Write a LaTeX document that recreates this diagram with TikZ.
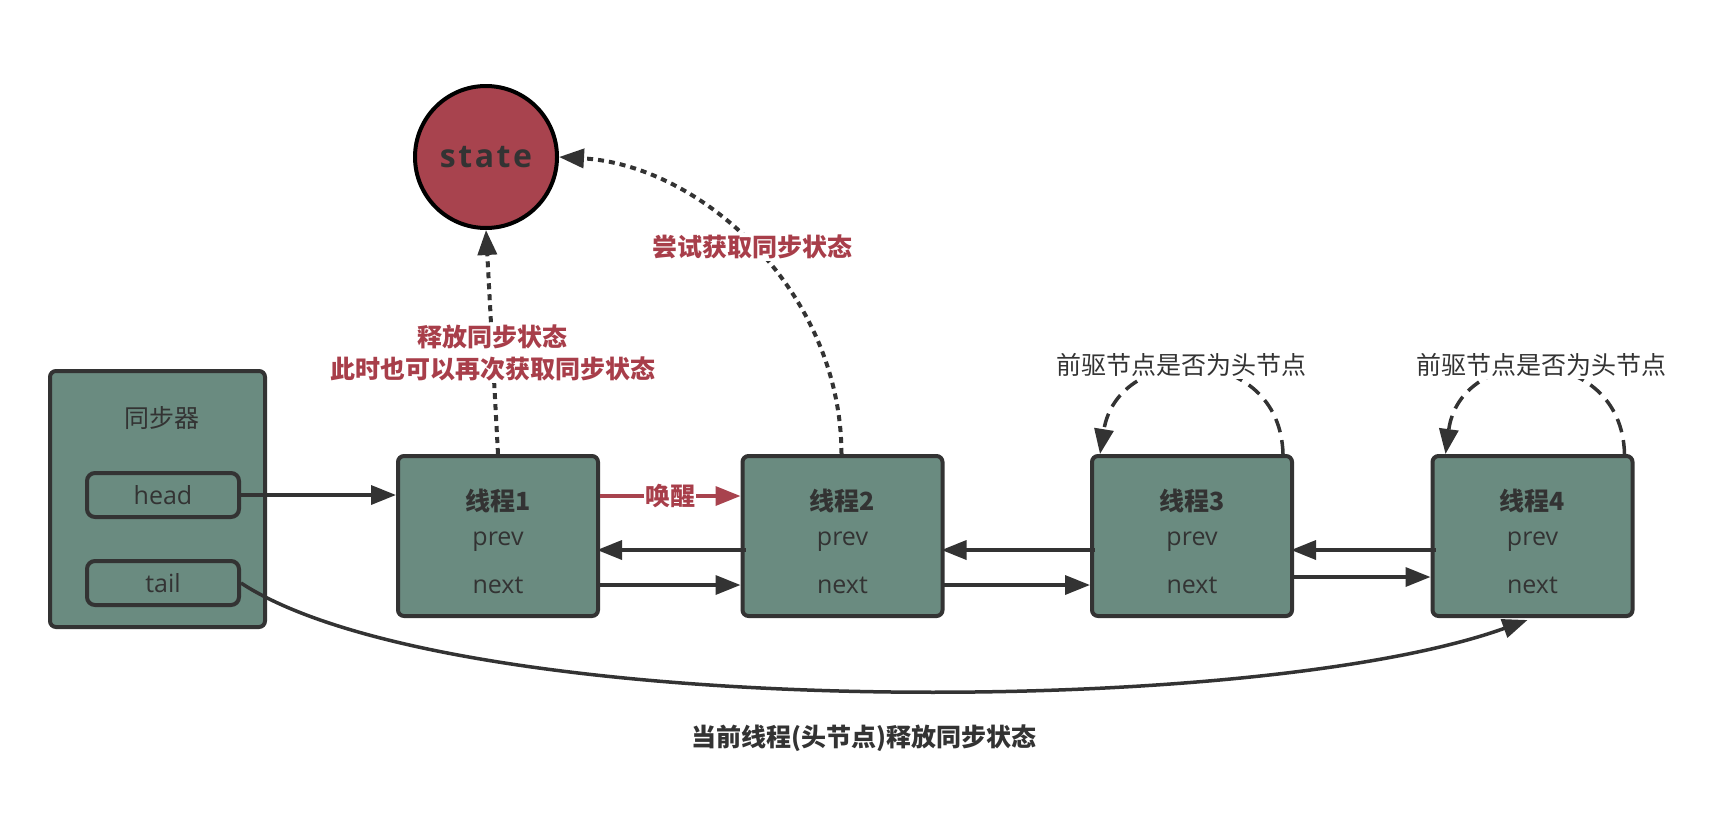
\documentclass[tikz,border=0pt]{standalone}
\usepackage{fontspec}
\setmainfont{Open Sans}
\newfontfamily\cjk{Noto Sans CJK SC}
\newfontfamily\statefont[LetterSpace=8]{Open Sans}
\usetikzlibrary{arrows.meta,calc}
\definecolor{linec}{HTML}{333333}
\definecolor{boxc}{HTML}{6A8B80}
\definecolor{statec}{HTML}{A8434E}
\definecolor{redt}{HTML}{A83E4A}
\begin{document}
\begin{tikzpicture}[x=1pt,y=-1pt,
  tbox/.style={draw=linec, line width=4pt, fill=boxc, rounded corners=6pt, minimum width=200pt, minimum height=160pt, inner sep=0pt},
  synbox/.style={draw=linec, line width=4pt, fill=boxc, rounded corners=6pt, minimum width=215pt, minimum height=256pt, inner sep=0pt},
  fbox/.style={draw=linec, line width=4pt, fill=boxc, rounded corners=8pt, minimum width=152pt, minimum height=44pt, inner sep=0pt, text=linec, font=\fontsize{25}{28}\selectfont},
  ttl/.style={text=linec, font=\cjk\bfseries\fontsize{25}{30}\selectfont, inner sep=0pt},
  fld/.style={text=linec, font=\fontsize{25}{28}\selectfont, inner sep=0pt},
  note/.style={text=linec, font=\cjk\fontsize{25}{30}\selectfont, inner sep=2pt, fill=white},
  rlbl/.style={text=redt, font=\cjk\bfseries\fontsize{25}{32}\selectfont, inner sep=2pt, fill=white, align=center},
  tip/.style={-{Triangle[length=25pt,width=19pt]}},
  arr/.style={draw=linec, line width=3.5pt, tip},
  dotarr/.style={draw=linec, line width=4pt, dash pattern=on 6pt off 5pt, tip},
  dasharr/.style={draw=linec, line width=3.5pt, dash pattern=on 14pt off 8pt, tip},
  redarr/.style={draw=statec, line width=3.5pt, tip}
]
\useasboundingbox (0,0) rectangle (1710,825);

% synchronizer
\node[synbox] (sync) at (157.5,499) {};
\node[text=linec, font=\cjk\fontsize{25}{30}\selectfont] (synt) at (162,418) {同步器};
\node[fbox] (head) at (163,495) {head};
\node[fbox] (tail) at (163,583) {tail};

% threads
\node[tbox] (t1) at (498,536) {};
\node[tbox] (t2) at (842.5,536) {};
\node[tbox] (t3) at (1192,536) {};
\node[tbox] (t4) at (1532.5,536) {};
\foreach \t/\n in {t1/1,t2/2,t3/3,t4/4}{
  \node[ttl] (\t t) at ($(\t)+(0,-35)$) {线程\n};
  \node[fld] (\t p) at ($(\t)+(0,6)$) {prev};
  \node[fld] (\t n) at ($(\t)+(0,49)$) {next};
}

% state
\node[circle, draw=black, line width=4pt, fill=statec, minimum size=142pt, inner sep=0pt, text=linec, font=\statefont\bfseries\fontsize{32}{36}\selectfont] (state) at (486,157) {state};

% head -> thread1
\draw[arr] (head.east) -- (t1.west |- head.east);

% wake up
\draw[redarr] ($(t1.east)+(0,-40)$) -- node[text=redt, font=\cjk\bfseries\fontsize{25}{28}\selectfont, fill=white, inner sep=1pt] (wake) {唤醒} ($(t2.west)+(0,-40)$);

% prev / next links
\draw[arr] ($(t2.west)+(5,14)$) -- ($(t1.east)+(-3,14)$);
\draw[arr] ($(t1.east)+(-3,49)$) -- ($(t2.west)+(0,49)$);
\draw[arr] ($(t3.west)+(5,14)$) -- ($(t2.east)+(-3,14)$);
\draw[arr] ($(t2.east)+(-3,49)$) -- ($(t3.west)+(0,49)$);
\draw[arr] ($(t4.west)+(5,14)$) -- ($(t3.east)+(-3,14)$);
\draw[arr] ($(t3.east)+(-3,41)$) -- ($(t4.west)+(0,41)$);

% release / acquire
\draw[dotarr] (t1.north) -- node[rlbl, pos=0.45] (rel) {释放同步状态\\此时也可以再次获取同步状态} (state.south);
\draw[dotarr] ($(t2.north)+(-1,0)$) .. controls (841,290) and (700,165) .. node[rlbl, pos=0.5] (acq) {尝试获取同步状态} (state.east);

% self loops
\draw[dasharr] ($(t3.north east)+(-11,0)$) .. controls ($(t3.north east)+(-14,-112)$) and ($(t3.north west)+(28,-112)$) .. ($(t3.north west)+(10,0)$);
\node[note] (n3) at (1181,365) {前驱节点是否为头节点};
\draw[dasharr] ($(t4.north east)+(-10,0)$) .. controls ($(t4.north east)+(-13,-112)$) and ($(t4.north west)+(30,-112)$) .. ($(t4.north west)+(15,0)$);
\node[note] (n4) at (1541,365) {前驱节点是否为头节点};

% tail -> thread4
\draw[arr] (tail.east) .. controls (450,720) and (1250,720) .. ($(t4.south)+(-5,2)$);

% caption
\node[text=linec, font=\cjk\bfseries\fontsize{25}{30}\selectfont] (cap) at (864,738) {当前线程(头节点)释放同步状态};
\end{tikzpicture}
\end{document}
